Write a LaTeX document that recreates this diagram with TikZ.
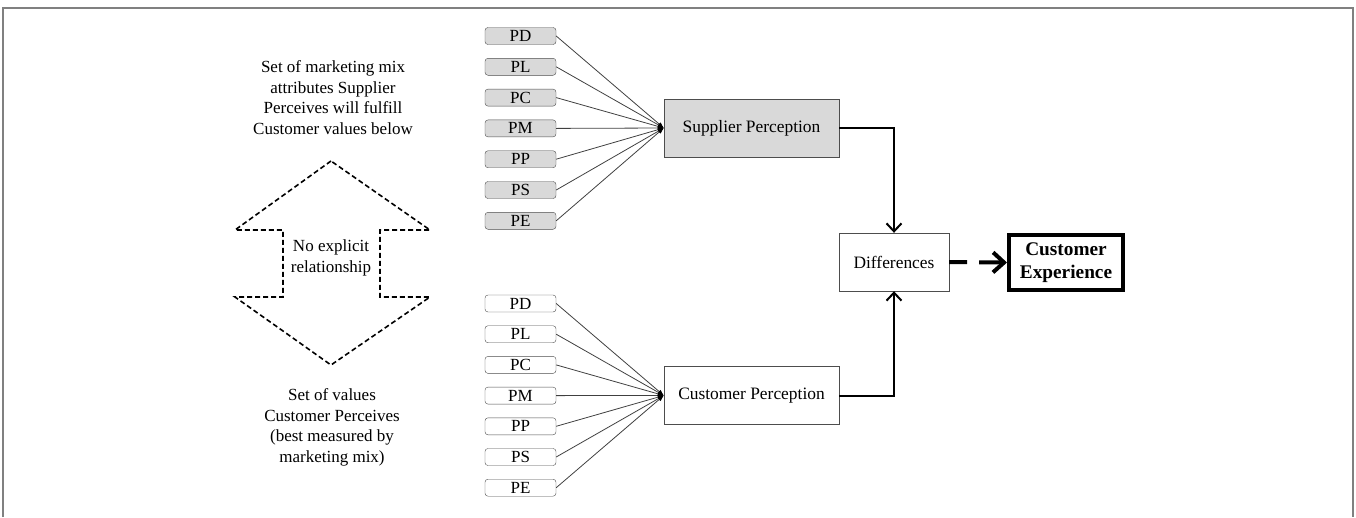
\documentclass[tikz,border=0pt]{standalone}
\usepackage{fontspec}
\setmainfont{Liberation Serif}
\usetikzlibrary{arrows.meta}

\definecolor{boxgray}{HTML}{D9D9D9}
\definecolor{edgegray}{HTML}{4D4D4D}

\tikzset{
  attr/.style={draw=edgegray, rounded corners=3pt, minimum width=71pt,
    minimum height=17pt, inner sep=0pt, font=\fontsize{17}{17}\selectfont},
  perc/.style={draw=edgegray, minimum width=175pt, minimum height=58pt,
    inner sep=0pt, font=\fontsize{17.4}{20}\selectfont},
  fan/.style={black!75, line width=0.8pt,
    -{Latex[length=6pt,width=4.5pt,black]}},
  feed/.style={line width=2pt, -{Straight Barb[length=8pt,width=15pt]}},
  note/.style={align=center, font=\fontsize{17}{20.5}\selectfont}
}

\begin{document}
\begin{tikzpicture}[x=1pt,y=-1pt]
  \useasboundingbox (0,0) rectangle (1356,517);
  \draw[gray, line width=1.5pt] (3,517) -- (3,8) -- (1353,8) -- (1353,517);

  \node[perc, fill=boxgray] (sup) at (751.5,128) {Supplier Perception};
  \node[perc] (cus) at (751.5,395.5) {Customer Perception};
  \node[perc, minimum width=110pt] (diff) at (894,262) {Differences};
  \node[draw, line width=4pt, minimum width=114pt, minimum height=55pt,
    inner sep=0pt, align=center, font=\bfseries\fontsize{19.3}{23}\selectfont]
    (exp) at (1066,262.5) {Customer\\Experience};

  \foreach \lab [count=\i] in {PD,PL,PC,PM,PP,PS,PE} {
    \node[attr, fill=boxgray] (s\i) at (520.5,{36+30.8*(\i-1)}) {\lab};
    \draw[fan] (s\i.east) -- (sup.west);
    \node[attr, fill=white] (c\i) at (520.5,{303.5+30.7*(\i-1)}) {\lab};
    \draw[fan] (c\i.east) -- (cus.west);
  }

  \draw[feed] (sup.east) -| (diff.north);
  \draw[feed] (cus.east) -| (diff.south);
  \draw[line width=4pt, dash pattern=on 18pt off 12pt on 60pt off 0pt,
    -{Straight Barb[length=11pt,width=20pt]}] (diff.east) -- (exp.west);

  \node[note] (top) at (333,97.5)
    {Set of marketing mix\\attributes Supplier\\Perceives will fulfill\\Customer values below};
  \node[note] (bot) at (332,427.5)
    {Set of values\\Customer Perceives\\(best measured by\\marketing mix)};

  \draw[line width=1.6pt, dash pattern=on 5pt off 3pt]
    (331,161) -- (235,230) -- (283,230) -- (283,297) -- (235,297) --
    (331,365) -- (430,297) -- (380,297) -- (380,230) -- (430,230) -- cycle;
  \node[note, font=\fontsize{17}{21}\selectfont] (rel) at (331,258)
    {No explicit\\relationship};
\end{tikzpicture}
\end{document}
